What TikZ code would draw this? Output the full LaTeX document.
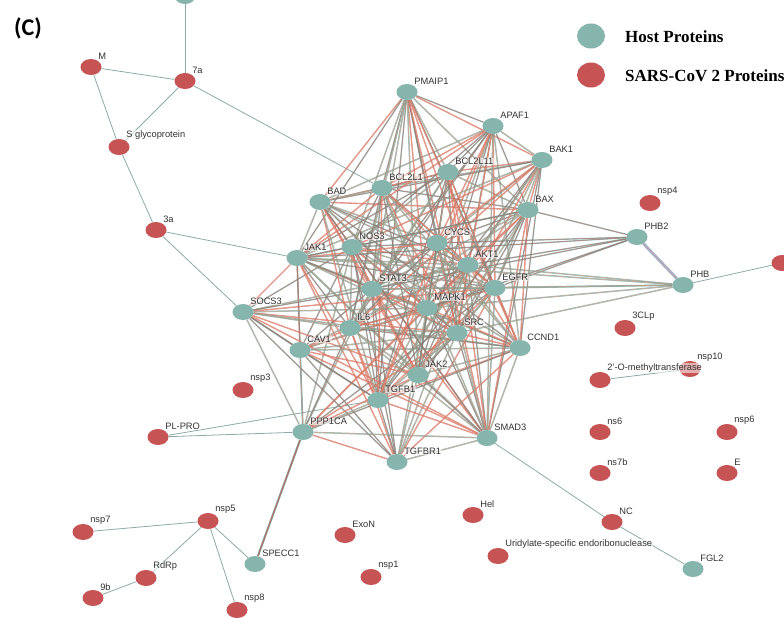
\documentclass[tikz,border=0pt]{standalone}
\usepackage{fontspec}
\setmainfont{Liberation Serif}
\setsansfont{Liberation Sans}
\newfontfamily\capfont{Carlito}
\usetikzlibrary{shapes.geometric,backgrounds}
\definecolor{hostc}{RGB}{133,181,172}
\definecolor{virc}{RGB}{199,84,84}
\definecolor{eteal}{RGB}{100,155,148}
\definecolor{ered}{RGB}{205,90,80}
\definecolor{esal}{RGB}{235,165,135}
\definecolor{plainc}{RGB}{140,172,166}
\begin{document}
\begin{tikzpicture}[x=1pt,y=-1pt,
  prot/.style={ellipse, minimum width=21pt, minimum height=16pt, inner sep=0pt},
  host/.style={prot, fill=hostc},
  vir/.style={prot, fill=virc},
  lbl/.style={font=\sffamily\fontsize{9.3}{10}\selectfont, anchor=south west, inner sep=0.6pt, text=black!80, fill=white, fill opacity=0.55, text opacity=1},
  link/.style={draw=plainc, line width=0.8pt},
  edgeA/.style={draw=eteal, line width=0.45pt, double=ered, double distance=0.5pt, opacity=0.65},
  edgeB/.style={draw=ered, line width=0.4pt, double=esal, double distance=0.6pt, opacity=0.65},
  edgeC/.style={draw=eteal, line width=0.45pt, double=esal, double distance=0.6pt, opacity=0.65}
]
\useasboundingbox (0,0) rectangle (784,618);

% title and legend
\node[font=\capfont\bfseries\fontsize{24}{26}\selectfont, anchor=west, inner sep=0pt] (title) at (14,28) {(C)};
\node[host, minimum width=28pt, minimum height=25pt] (leghost) at (591,36) {};
\node[font=\bfseries\fontsize{17}{19}\selectfont, anchor=west, inner sep=0pt] (leghostt) at (625,37) {Host Proteins};
\node[vir, minimum width=28pt, minimum height=25pt] (legvir) at (591,75) {};
\node[font=\bfseries\fontsize{17}{19}\selectfont, anchor=west, inner sep=0pt] (legvirt) at (625,76) {SARS-CoV 2 Proteins};

% host proteins
\node[host] (top) at (185,-4) {};
\node[host, label={[lbl]45:PMAIP1}] (PMAIP1) at (407,92) {};
\node[host, label={[lbl]45:APAF1}] (APAF1) at (493,126) {};
\node[host, label={[lbl]45:BAK1}] (BAK1) at (542,160) {};
\node[host, label={[lbl]45:BCL2L11}] (BCL2L11) at (448,172) {};
\node[host, label={[lbl]45:BCL2L1}] (BCL2L1) at (382,188) {};
\node[host, label={[lbl]45:BAD}] (BAD) at (320,202) {};
\node[host, label={[lbl]45:BAX}] (BAX) at (528,210) {};
\node[host, label={[lbl]45:NOS3}] (NOS3) at (352,247) {};
\node[host, label={[lbl]45:CYCS}] (CYCS) at (437,243) {};
\node[host, label={[lbl]45:JAK1}] (JAK1) at (297,258) {};
\node[host, label={[lbl]45:AKT1}] (AKT1) at (468,265) {};
\node[host, label={[lbl]45:STAT3}] (STAT3) at (372,289) {};
\node[host, label={[lbl]45:EGFR}] (EGFR) at (495,288) {};
\node[host, label={[lbl]45:MAPK1}] (MAPK1) at (427,308) {};
\node[host, label={[lbl]45:SOCS3}] (SOCS3) at (243,312) {};
\node[host, label={[lbl]45:IL6}] (IL6) at (350,328) {};
\node[host, label={[lbl]45:SRC}] (SRC) at (457,333) {};
\node[host, label={[lbl]45:CAV1}] (CAV1) at (300,350) {};
\node[host, label={[lbl]45:CCND1}] (CCND1) at (520,348) {};
\node[host, label={[lbl]45:JAK2}] (JAK2) at (418,375) {};
\node[host, label={[lbl]45:TGFB1}] (TGFB1) at (378,400) {};
\node[host, label={[lbl]45:PPP1CA}] (PPP1CA) at (303,432) {};
\node[host, label={[lbl]45:SMAD3}] (SMAD3) at (487,438) {};
\node[host, label={[lbl]45:TGFBR1}] (TGFBR1) at (397,462) {};
\node[host, label={[lbl]45:SPECC1}] (SPECC1) at (255,564) {};
\node[host, label={[lbl]45:PHB2}] (PHB2) at (637,237) {};
\node[host, label={[lbl]45:PHB}] (PHB) at (683,285) {};
\node[host, label={[lbl]45:FGL2}] (FGL2) at (693,569) {};

% viral proteins
\node[vir, label={[lbl]45:M}] (M) at (91,67) {};
\node[vir, label={[lbl]45:7a}] (p7a) at (185,81) {};
\node[vir, label={[lbl]45:S glycoprotein}] (Sgly) at (119,147) {};
\node[vir, label={[lbl]45:3a}] (p3a) at (156,230) {};
\node[vir, label={[lbl]45:nsp4}] (nsp4) at (650,203) {};
\node[vir] (redright) at (782,263) {};
\node[vir, label={[lbl]45:3CLp}] (CLp) at (625,328) {};
\node[vir, label={[lbl]45:nsp10}] (nsp10) at (690,369) {};
\node[vir, label={[lbl]45:2'-O-methyltransferase}] (omt) at (600,380) {};
\node[vir, label={[lbl]45:nsp3}] (nsp3) at (243,390) {};
\node[vir, label={[lbl]45:PL-PRO}] (plpro) at (158,437) {};
\node[vir, label={[lbl]45:ns6}] (ns6) at (600,432) {};
\node[vir, label={[lbl]45:nsp6}] (nsp6) at (727,432) {};
\node[vir, label={[lbl]45:ns7b}] (ns7b) at (600,473) {};
\node[vir, label={[lbl]45:E}] (E) at (727,473) {};
\node[vir, label={[lbl]45:Hel}] (Hel) at (473,515) {};
\node[vir, label={[lbl]45:ExoN}] (ExoN) at (345,535) {};
\node[vir, label={[lbl]45:NC}] (NC) at (612,522) {};
\node[vir, label={[lbl]45:Uridylate-specific endoribonuclease}] (uri) at (498,556) {};
\node[vir, label={[lbl]45:nsp1}] (nsp1) at (371,577) {};
\node[vir, label={[lbl]45:nsp5}] (nsp5) at (208,521) {};
\node[vir, label={[lbl]45:nsp7}] (nsp7) at (83,532) {};
\node[vir, label={[lbl]45:RdRp}] (RdRp) at (146,578) {};
\node[vir, label={[lbl]45:9b}] (p9b) at (93,598) {};
\node[vir, label={[lbl]45:nsp8}] (nsp8) at (237,610) {};

\begin{pgfonlayer}{background}
\fill[white] (0,0) rectangle (784,618);
% simple links
\foreach \a/\b in {top/p7a, M/p7a, M/Sgly, p7a/Sgly, p7a/BCL2L1, Sgly/p3a, p3a/JAK1, p3a/SOCS3,
  plpro/PPP1CA, plpro/TGFB1, nsp5/nsp7, nsp5/RdRp, nsp5/nsp8, nsp5/SPECC1, RdRp/p9b,
  SMAD3/NC, NC/FGL2, PHB/redright, omt/nsp10}
  \draw[link] (\a) -- (\b);
% apoptosis group, complete
\foreach \a [count=\i] in {PMAIP1,APAF1,BAK1,BCL2L11,BCL2L1,BAD,BAX,CYCS} {
  \foreach \b [count=\j] in {PMAIP1,APAF1,BAK1,BCL2L11,BCL2L1,BAD,BAX,CYCS} {
    \ifnum\j>\i
      \pgfmathtruncatemacro\k{mod(\i+\j,3)}
      \ifcase\k \draw[edgeA] (\a) -- (\b); \or \draw[edgeB] (\a) -- (\b); \or \draw[edgeC] (\a) -- (\b); \fi
    \fi
  }
}
% signalling group, complete
\foreach \a [count=\i] in {NOS3,JAK1,AKT1,STAT3,EGFR,MAPK1,SOCS3,IL6,SRC,CAV1,CCND1,JAK2,TGFB1,PPP1CA,SMAD3,TGFBR1} {
  \foreach \b [count=\j] in {NOS3,JAK1,AKT1,STAT3,EGFR,MAPK1,SOCS3,IL6,SRC,CAV1,CCND1,JAK2,TGFB1,PPP1CA,SMAD3,TGFBR1} {
    \ifnum\j>\i
      \pgfmathtruncatemacro\k{mod(\i+2*\j,3)}
      \ifcase\k \draw[edgeA] (\a) -- (\b); \or \draw[edgeB] (\a) -- (\b); \or \draw[edgeC] (\a) -- (\b); \fi
    \fi
  }
}
% cross links
\foreach \a [count=\i] in {PMAIP1,APAF1,BAK1,BCL2L11,BCL2L1,BAD,BAX,CYCS} {
  \foreach \b [count=\j] in {NOS3,JAK1,AKT1,STAT3,EGFR,MAPK1,IL6,SRC,CCND1,JAK2,TGFB1,SMAD3} {
    \pgfmathtruncatemacro\k{mod(\i+\j,3)}
    \ifcase\k \draw[edgeA] (\a) -- (\b); \or \draw[edgeB] (\a) -- (\b); \or \draw[edgeC] (\a) -- (\b); \fi
  }
}
% PHB links
\foreach \b in {AKT1,EGFR,CYCS,JAK1,STAT3,BAX,MAPK1}
  \draw[edgeA] (PHB2) -- (\b);
\foreach \b in {AKT1,EGFR,MAPK1,STAT3,SRC,JAK1}
  \draw[edgeC] (PHB) -- (\b);
\draw[edgeA, line width=0.7pt, double=violet!40, double distance=1.6pt] (PHB2) -- (PHB);
\draw[edgeA, line width=0.6pt, double distance=0.9pt, opacity=0.85] (SPECC1) -- (PPP1CA);
\end{pgfonlayer}
\end{tikzpicture}
\end{document}
